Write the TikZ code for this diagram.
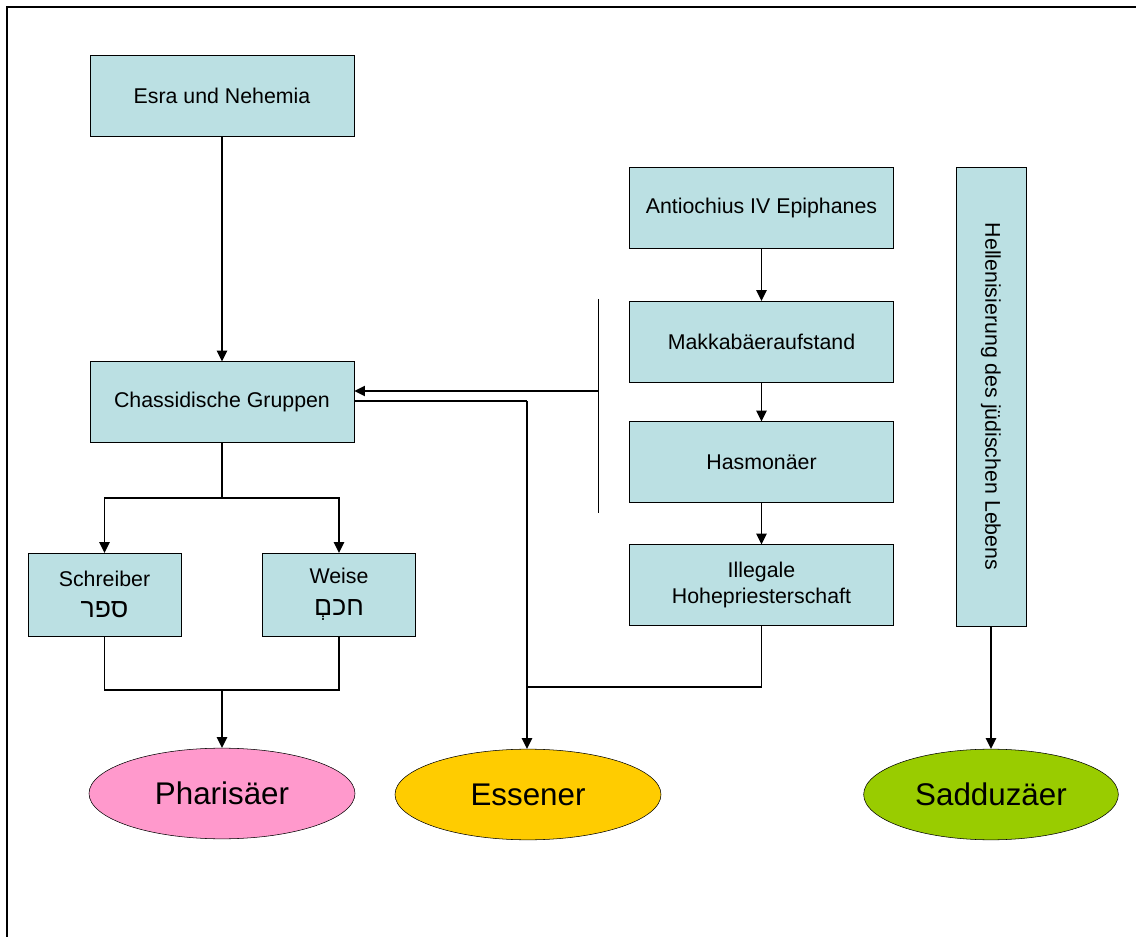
\documentclass[tikz,border=0pt]{standalone}
\usepackage{fontspec}
\setmainfont{Liberation Sans}
\newfontfamily\hebfont[Script=Hebrew]{Liberation Sans}
\TeXXeTstate=1
\usepackage{tikz}
\usetikzlibrary{shapes.geometric, arrows.meta}
\definecolor{boxcyan}{HTML}{BBE0E3}
\definecolor{pharpink}{HTML}{FF99CC}
\definecolor{essgold}{HTML}{FFCC00}
\definecolor{sadgreen}{HTML}{99CC00}
\tikzstyle{every node}=[font=\fontsize{16}{19.5}\selectfont, inner sep=0pt]
\tikzstyle{group}=[draw, thin, fill=boxcyan, align=center, minimum width=198pt, minimum height=60.5pt]
\tikzstyle{office}=[group, minimum width=115pt, minimum height=62pt]
\tikzstyle{party}=[ellipse, draw, thin, minimum width=199.5pt, minimum height=68pt, font=\fontsize{23.5}{28}\selectfont]
\tikzstyle{link}=[line width=1.4pt]
\tikzstyle{flow}=[link, -{Triangle[length=8pt, width=7.5pt]}]

\begin{document}
\begin{tikzpicture}[x=0.75pt, y=-0.75pt]
\useasboundingbox (0,0) rectangle (1136,937);
% Frame
    \draw[line width=1.5pt] (7,937) -- (7,7) -- (1136,7);
% Left branch
    \node[group] (esra) at (222,95.5) {Esra und Nehemia};
    \node[group] (chass) at (222,402) {Chassidische Gruppen};
    \node[office] (schreiber) at (104.5,594.5) {Schreiber\\[4pt]{\fontsize{20}{20}\hebfont\beginR ספר\endR}};
    \node[office] (weise) at (339,594.5) {Weise\\[4pt]{\fontsize{20}{20}\hebfont\beginR חכםְ\endR}};
% Right branch
    \node[group] (antiochus) at (761.5,207.5) {Antiochius IV Epiphanes};
    \node[group] (makkabaeer) at (761.5,341.5) {Makkabäeraufstand};
    \node[group] (hasmonaeer) at (761.5,462) {Hasmonäer};
    \node[group] (illegal) at (761.5,585) {Illegale\\Hohepriesterschaft};
    \node[group, rotate=-90, minimum width=344pt, minimum height=52.5pt] (hellen) at (991,396.5) {Hellenisierung des jüdischen Lebens};
% Parties
    \node[party, fill=pharpink] (pharisaeer) at (222,793.5) {Pharisäer};
    \node[party, fill=essgold] (essener) at (528,794.5) {Essener};
    \node[party, fill=sadgreen, minimum width=191pt] (sadduzaeer) at (991,794.5) {Sadduzäer};
% Junctions
    \coordinate (split) at (222,498);
    \coordinate (merge) at (222,690);
    \coordinate (barTop) at (598,299);
    \coordinate (barBot) at (598,513);
    \coordinate (barMid) at (598,391);
    \coordinate (essTurn) at (527,401);
% Connectors
    \draw[flow] (esra) -- (chass);
    \draw[link] (chass) -- (split);
    \draw[flow] (split) -| (schreiber);
    \draw[flow] (split) -| (weise);
    \draw[link] (schreiber) |- (merge) -| (weise);
    \draw[flow] (merge) -- (pharisaeer);
    \draw[thin] (barTop) -- (barBot);
    \draw[flow] (barMid) -- (barMid -| chass.east);
    \draw[link] (essTurn -| chass.east) -- (essTurn);
    \draw[flow] (essTurn) -- (essTurn |- essener.north);
    \draw[link] (illegal) |- (527,687);
    \draw[flow] (antiochus) -- (makkabaeer);
    \draw[flow] (makkabaeer) -- (hasmonaeer);
    \draw[flow] (hasmonaeer) -- (illegal);
    \draw[flow] (hellen) -- (sadduzaeer);
\end{tikzpicture}
\end{document}
